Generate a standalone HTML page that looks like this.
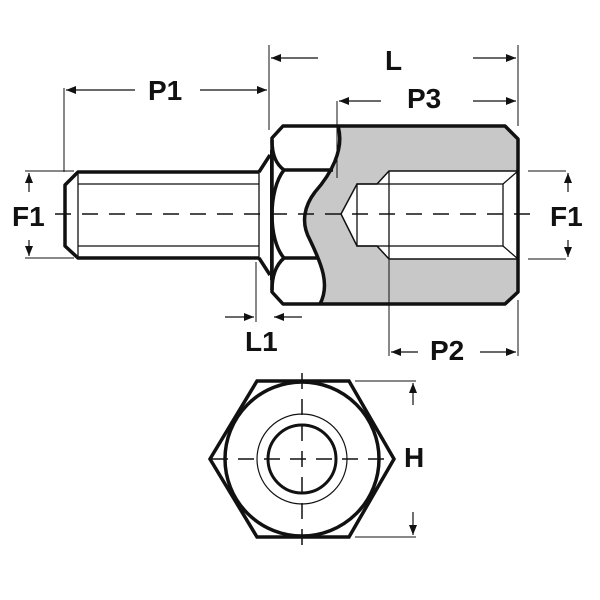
<!DOCTYPE html>
<html><head><style>body{margin:0;background:#fff}svg{display:block}text{font-family:"Liberation Sans",sans-serif;font-weight:bold;font-size:28px;fill:#111}</style></head><body>
<svg width="600" height="600" viewBox="0 0 600 600" xmlns="http://www.w3.org/2000/svg">
<defs><marker id="a" markerWidth="10" markerHeight="8" refX="10" refY="4" orient="auto" markerUnits="userSpaceOnUse"><path d="M0,0 L10,4 L0,8z" fill="#111"/></marker></defs>
<path d="M338,126 L505,126 L518,139 L518,292 L505,304 L320,304 C330,285 322,265 310,240 C300,222 305,205 315,192 C330,175 345,150 338,126Z" fill="#c8c8c8"/>
<path d="M341,214 L357,184 L377,184 L389,171 L518,171 L518,259 L389,259 L377,246 L357,246Z" fill="#fff" stroke="#111" stroke-width="1.5"/>
<g fill="none" stroke="#111" stroke-width="1.3">
<rect x="357" y="184" width="146" height="62"/>
<line x1="389" y1="171" x2="389" y2="259"/>
<line x1="503" y1="184" x2="518" y2="171"/><line x1="503" y1="246" x2="518" y2="259"/>
</g>
<g fill="none" stroke="#111" stroke-width="3.5" stroke-linejoin="round">
<path d="M283,126 L505,126 L518,139 L518,292 L505,304 L283,304 L272,292 L272,138 Z"/>
<path d="M338,126 C345,150 330,175 315,192 C305,205 300,222 310,240 C322,265 330,285 320,304"/>
<path d="M272,140 C272,155 276,164 284,170 L333,170"/>
<path d="M272,290 C272,275 276,265 284,258 L318,258"/>
<path d="M284,170 C268,190 268,240 284,258"/>
<path d="M259,172 L78,172 L65,185 L65,246 L78,258 L259,258"/>
<path d="M259,172 L270,155"/><path d="M259,258 L270,275"/>
<line x1="271" y1="150" x2="271" y2="280" stroke-width="2"/>
</g>
<g fill="none" stroke="#111" stroke-width="1.3">
<line x1="78" y1="184" x2="259" y2="184"/><line x1="78" y1="246" x2="259" y2="246"/>
<line x1="78" y1="172" x2="78" y2="258"/><line x1="259" y1="172" x2="259" y2="258"/>
</g>
<line x1="55" y1="214" x2="530" y2="214" stroke="#111" stroke-width="1.5" stroke-dasharray="16,11"/>
<g stroke="#111" stroke-width="1" fill="none">
<line x1="64" y1="88" x2="64" y2="172"/><line x1="269" y1="45" x2="269" y2="130"/>
<line x1="518" y1="45" x2="518" y2="126"/><line x1="337" y1="101" x2="337" y2="178"/>
<line x1="389" y1="259" x2="389" y2="356"/><line x1="518" y1="300" x2="518" y2="356"/>
<line x1="256" y1="262" x2="256" y2="322"/>
<line x1="25" y1="171" x2="74" y2="171"/><line x1="25" y1="258" x2="74" y2="258"/>
<line x1="528" y1="171" x2="566" y2="171"/><line x1="528" y1="259" x2="566" y2="259"/>
<line x1="355" y1="381" x2="416" y2="381"/><line x1="355" y1="537" x2="416" y2="537"/>
</g>
<g stroke="#111" stroke-width="1.2" marker-end="url(#a)">
<line x1="135" y1="90" x2="66" y2="90"/><line x1="200" y1="90" x2="267" y2="90"/>
<line x1="318" y1="58" x2="271" y2="58"/><line x1="473" y1="58" x2="516" y2="58"/>
<line x1="381" y1="101" x2="339" y2="101"/><line x1="473" y1="101" x2="516" y2="101"/>
<line x1="418" y1="352" x2="391" y2="352"/><line x1="480" y1="352" x2="516" y2="352"/>
<line x1="225" y1="317" x2="254" y2="317"/><line x1="302" y1="317" x2="274" y2="317"/>
<line x1="29" y1="192" x2="29" y2="173"/><line x1="29" y1="240" x2="29" y2="256"/>
<line x1="568" y1="192" x2="568" y2="173"/><line x1="568" y1="240" x2="568" y2="257"/>
<line x1="413" y1="405" x2="413" y2="383"/><line x1="413" y1="512" x2="413" y2="535"/>
</g>
<text x="148" y="100">P1</text><text x="385" y="70">L</text><text x="407" y="108">P3</text>
<text x="245" y="351">L1</text><text x="430" y="360">P2</text>
<text x="12" y="226">F1</text><text x="550" y="226">F1</text><text x="404" y="467">H</text>
<g fill="none" stroke="#111">
<path d="M257,381 L349,381 L394,459 L349,537 L257,537 L210,459Z" stroke-width="3.5" stroke-linejoin="miter"/>
<circle cx="302" cy="459" r="77" stroke-width="3.5"/>
<circle cx="302" cy="459" r="45" stroke-width="1.2"/>
<circle cx="302" cy="459" r="34" stroke-width="3"/>
<line x1="212" y1="459" x2="394" y2="459" stroke-width="1.5" stroke-dasharray="16,10"/>
<line x1="302" y1="373" x2="302" y2="553" stroke-width="1.5" stroke-dasharray="16,10"/>
</g>
</svg>
</body></html>
